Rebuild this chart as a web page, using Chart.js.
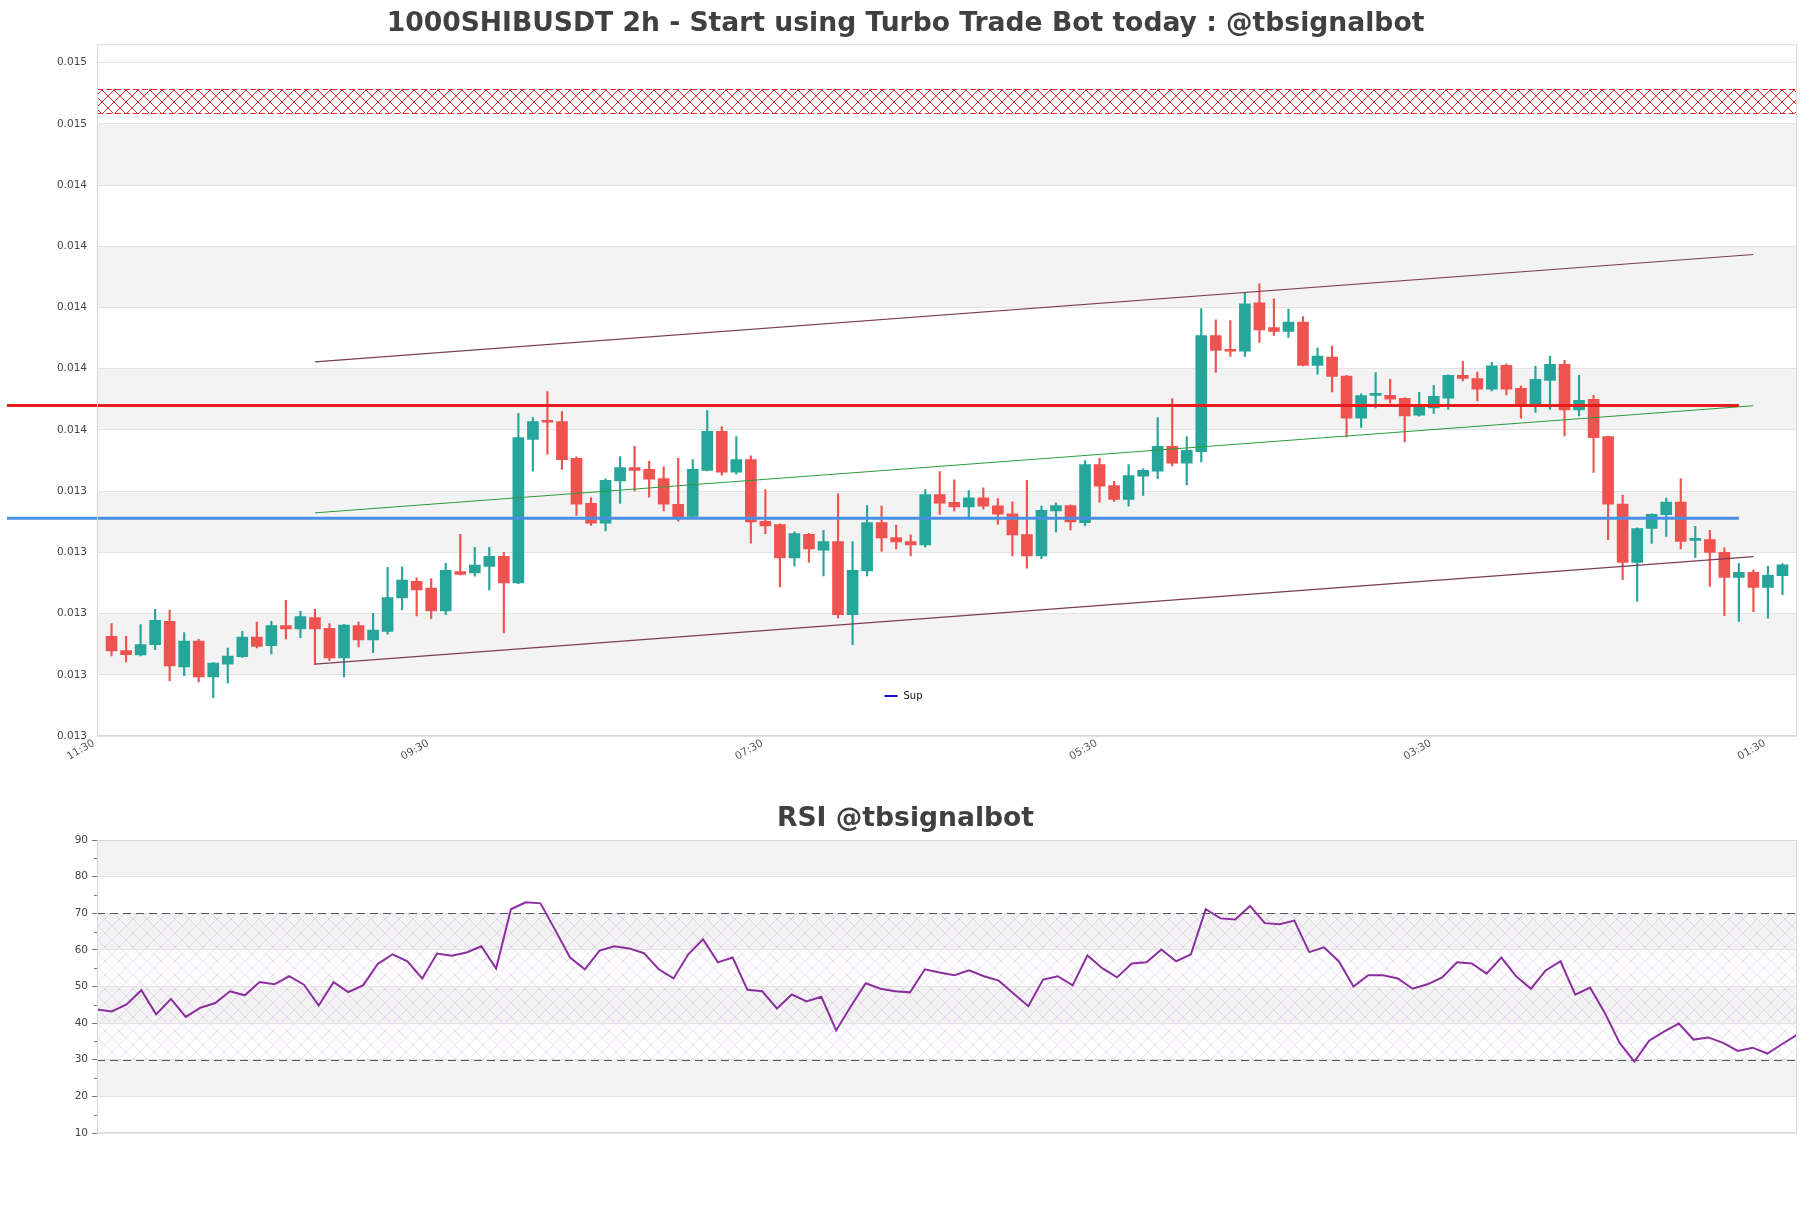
<!DOCTYPE html>
<html>
<head>
<meta charset="utf-8">
<title>1000SHIBUSDT 2h</title>
<script src="https://cdn.jsdelivr.net/npm/chart.js@4.4.1/dist/chart.umd.min.js"></script>
<style>
    html, body { margin: 0; padding: 0; background: #ffffff; }
    #wrap { position: relative; width: 1811px; height: 1208px; }
    #priceChart { position: absolute; left: 0; top: 0; }
    #rsiChart { position: absolute; left: 0; top: 786px; }
</style>
</head>
<body>
<div id="wrap">
    <canvas id="priceChart" width="1811" height="786"></canvas>
    <canvas id="rsiChart" width="1811" height="422"></canvas>
</div>
<script>
// Candle values (2h candles, oldest first)
const opens = [0.012926, 0.012879, 0.012865, 0.012898, 0.012975, 0.012826, 0.012910, 0.012793, 0.012835, 0.012859,
    0.012923, 0.012895, 0.012961, 0.012950, 0.012987, 0.012952, 0.012855, 0.012961, 0.012914, 0.012942,
    0.013051, 0.013105, 0.013083, 0.013009, 0.013137, 0.013133, 0.013154, 0.013187, 0.013100, 0.013569,
    0.013627, 0.013627, 0.013507, 0.013360, 0.013295, 0.013433, 0.013477, 0.013471, 0.013441, 0.013357,
    0.013317, 0.013468, 0.013595, 0.013462, 0.013503, 0.013301, 0.013291, 0.013182, 0.013259, 0.013207,
    0.013235, 0.012996, 0.013139, 0.013297, 0.013248, 0.013235, 0.013224, 0.013389, 0.013363, 0.013348,
    0.013378, 0.013352, 0.013326, 0.013258, 0.013188, 0.013335, 0.013353, 0.013297, 0.013487, 0.013418,
    0.013373, 0.013449, 0.013465, 0.013546, 0.013491, 0.013529, 0.013908, 0.013862, 0.013857, 0.014015,
    0.013934, 0.013922, 0.013952, 0.013811, 0.013838, 0.013776, 0.013638, 0.013713, 0.013713, 0.013703,
    0.013648, 0.013672, 0.013704, 0.013778, 0.013768, 0.013733, 0.013811, 0.013736, 0.013678, 0.013762,
    0.013814, 0.013665, 0.013700, 0.013578, 0.013358, 0.013167, 0.013278, 0.013323, 0.013364, 0.013239,
    0.013242, 0.013200, 0.013118, 0.013135, 0.013085, 0.013124];
const highs = [0.012967, 0.012926, 0.012964, 0.013014, 0.013011, 0.012938, 0.012916, 0.012840, 0.012887, 0.012942,
    0.012972, 0.012975, 0.013043, 0.013007, 0.013014, 0.012967, 0.012965, 0.012972, 0.013001, 0.013151,
    0.013153, 0.013117, 0.013114, 0.013164, 0.013259, 0.013216, 0.013216, 0.013200, 0.013654, 0.013640,
    0.013725, 0.013660, 0.013512, 0.013379, 0.013440, 0.013513, 0.013546, 0.013497, 0.013479, 0.013507,
    0.013503, 0.013663, 0.013611, 0.013578, 0.013515, 0.013405, 0.013293, 0.013267, 0.013262, 0.013272,
    0.013391, 0.013235, 0.013353, 0.013351, 0.013289, 0.013257, 0.013405, 0.013464, 0.013437, 0.013402,
    0.013411, 0.013376, 0.013365, 0.013435, 0.013351, 0.013362, 0.013355, 0.013500, 0.013507, 0.013432,
    0.013487, 0.013473, 0.013640, 0.013702, 0.013578, 0.013996, 0.013960, 0.013957, 0.014049, 0.014077,
    0.014028, 0.013995, 0.013970, 0.013867, 0.013874, 0.013778, 0.013718, 0.013787, 0.013765, 0.013705,
    0.013723, 0.013746, 0.013780, 0.013824, 0.013789, 0.013821, 0.013816, 0.013743, 0.013808, 0.013841,
    0.013827, 0.013778, 0.013713, 0.013580, 0.013387, 0.013280, 0.013326, 0.013377, 0.013441, 0.013285,
    0.013272, 0.013215, 0.013164, 0.013143, 0.013154, 0.013163];
const lows = [0.012862, 0.012842, 0.012862, 0.012882, 0.012780, 0.012797, 0.012777, 0.012725, 0.012773, 0.012857,
    0.012888, 0.012868, 0.012917, 0.012921, 0.012833, 0.012846, 0.012793, 0.012891, 0.012872, 0.012933,
    0.013012, 0.012992, 0.012983, 0.012996, 0.013126, 0.013122, 0.013077, 0.012937, 0.013098, 0.013465,
    0.013521, 0.013471, 0.013321, 0.013288, 0.013270, 0.013360, 0.013401, 0.013380, 0.013335, 0.013302,
    0.013310, 0.013466, 0.013452, 0.013455, 0.013230, 0.013261, 0.013087, 0.013155, 0.013168, 0.013123,
    0.012986, 0.012898, 0.013123, 0.013203, 0.013211, 0.013188, 0.013217, 0.013324, 0.013335, 0.013313,
    0.013341, 0.013292, 0.013188, 0.013148, 0.013179, 0.013267, 0.013273, 0.013286, 0.013364, 0.013366,
    0.013351, 0.013386, 0.013441, 0.013482, 0.013420, 0.013495, 0.013788, 0.013840, 0.013840, 0.013886,
    0.013909, 0.013902, 0.013809, 0.013782, 0.013724, 0.013577, 0.013608, 0.013672, 0.013687, 0.013561,
    0.013645, 0.013654, 0.013667, 0.013760, 0.013695, 0.013727, 0.013714, 0.013638, 0.013657, 0.013667,
    0.013580, 0.013646, 0.013461, 0.013241, 0.013111, 0.013040, 0.013229, 0.013252, 0.013211, 0.013183,
    0.013089, 0.012993, 0.012974, 0.013006, 0.012985, 0.013062];
const closes = [0.012878, 0.012866, 0.012899, 0.012978, 0.012829, 0.012910, 0.012793, 0.012838, 0.012861, 0.012923,
    0.012893, 0.012961, 0.012950, 0.012990, 0.012950, 0.012855, 0.012962, 0.012914, 0.012946, 0.013052,
    0.013109, 0.013077, 0.013009, 0.013141, 0.013128, 0.013158, 0.013187, 0.013100, 0.013575, 0.013627,
    0.013625, 0.013503, 0.013357, 0.013295, 0.013435, 0.013477, 0.013468, 0.013439, 0.013357, 0.013315,
    0.013471, 0.013595, 0.013462, 0.013503, 0.013299, 0.013286, 0.013182, 0.013261, 0.013211, 0.013235,
    0.012996, 0.013141, 0.013297, 0.013247, 0.013234, 0.013224, 0.013389, 0.013361, 0.013348, 0.013378,
    0.013351, 0.013325, 0.013257, 0.013188, 0.013337, 0.013353, 0.013299, 0.013487, 0.013416, 0.013373,
    0.013451, 0.013468, 0.013546, 0.013491, 0.013533, 0.013908, 0.013860, 0.013857, 0.014012, 0.013927,
    0.013922, 0.013952, 0.013811, 0.013841, 0.013775, 0.013638, 0.013712, 0.013716, 0.013700, 0.013646,
    0.013674, 0.013710, 0.013778, 0.013768, 0.013733, 0.013809, 0.013733, 0.013680, 0.013765, 0.013814,
    0.013665, 0.013697, 0.013575, 0.013357, 0.013167, 0.013278, 0.013324, 0.013364, 0.013236, 0.013241,
    0.013200, 0.013118, 0.013135, 0.013085, 0.013125, 0.013159];

// RSI values
const rsi = [43.7, 43.2, 45.1, 49.0, 42.4, 46.6, 41.7, 44.2, 45.5, 48.7,
    47.6, 51.2, 50.6, 52.8, 50.5, 44.8, 51.2, 48.5, 50.3, 56.2,
    58.8, 56.9, 52.2, 59.0, 58.4, 59.3, 61.0, 54.9, 71.1, 73.0,
    72.7, 65.4, 57.9, 54.7, 59.8, 61.0, 60.4, 59.1, 54.7, 52.2,
    58.8, 62.9, 56.6, 57.9, 49.1, 48.7, 44.0, 47.8, 45.9, 47.2,
    38.0, 44.6, 50.9, 49.4, 48.7, 48.4, 54.7, 53.8, 53.1, 54.4,
    52.8, 51.6, 48.1, 44.6, 51.9, 52.8, 50.3, 58.5, 55.0, 52.5,
    56.3, 56.6, 60.1, 56.9, 58.8, 71.1, 68.6, 68.3, 72.0, 67.3,
    67.0, 68.0, 59.4, 60.7, 56.9, 50.0, 53.1, 53.1, 52.2, 49.4,
    50.6, 52.5, 56.6, 56.3, 53.5, 57.9, 52.8, 49.4, 54.4, 56.9,
    47.8, 49.7, 42.8, 34.6, 29.5, 35.2, 37.7, 39.9, 35.5, 36.1,
    34.6, 32.4, 33.3, 31.7, 34.3, 36.8];

// Axis ticks
const priceTicks = [0.0126, 0.0128, 0.0130, 0.0132, 0.0134, 0.0136, 0.0138, 0.0140, 0.0142, 0.0144, 0.0146, 0.0148];
const rsiTicks = [10, 20, 30, 40, 50, 60, 70, 80, 90];
const xTickPos = [0, 23, 46, 69, 92, 115];
const xTickLabels = ['11:30', '09:30', '07:30', '05:30', '03:30', '01:30'];

// Levels, zone and channel (start / end candle and prices)
const resistZone = [0.014634, 0.014713];
const resistLevel = 0.013680;
const supportLevel = 0.013311;
const levelEnd = 113;
const channelFrom = 15;
const channelTo = 114;
const channelUpper = [0.013822, 0.014173];
const channelMid = [0.013329, 0.013679];
const channelLower = [0.012835, 0.013186];
const rsiZone = [30, 70];

const UP = '#26a69a';
const DOWN = '#ef5350';
const FONT = "'DejaVu Sans', 'Liberation Sans', sans-serif";

// Cross hatch pattern for zones
function hatch(ctx, color, size) {
    const c = document.createElement('canvas');
    c.width = size;
    c.height = size;
    const g = c.getContext('2d');
    g.strokeStyle = color;
    g.lineWidth = 1;
    g.beginPath();
    g.moveTo(0, 0); g.lineTo(size, size);
    g.moveTo(size, 0); g.lineTo(0, size);
    g.stroke();
    return ctx.createPattern(c, 'repeat');
}

// Alternating grey bands between ticks
const bandsPlugin = {
    id: 'bands',
    beforeDraw(chart, args, opts) {
        const { ctx, chartArea: a, scales: { y } } = chart;
        ctx.save();
        ctx.fillStyle = '#f3f3f3';
        for (let k = 1; k < opts.ticks.length - 1; k += 2) {
            const top = y.getPixelForValue(opts.ticks[k + 1]);
            const bottom = y.getPixelForValue(opts.ticks[k]);
            ctx.fillRect(a.left, top, a.right - a.left, bottom - top);
        }
        if (opts.zone) {
            const top = y.getPixelForValue(opts.zone[1]);
            const bottom = y.getPixelForValue(opts.zone[0]);
            ctx.fillStyle = hatch(ctx, opts.zoneColor, opts.zoneSize);
            ctx.fillRect(a.left, top, a.right - a.left, bottom - top);
            if (opts.zoneEdge) {
                ctx.strokeStyle = opts.zoneEdge;
                ctx.lineWidth = 1;
                ctx.setLineDash([6, 3]);
                [top, bottom].forEach(py => {
                    ctx.beginPath();
                    ctx.moveTo(a.left, Math.round(py) + 0.5);
                    ctx.lineTo(a.right, Math.round(py) + 0.5);
                    ctx.stroke();
                });
            }
        }
        ctx.restore();
    },
    afterDraw(chart) {
        // light frame round the plot area
        const { ctx, chartArea: a } = chart;
        ctx.save();
        ctx.strokeStyle = '#d9d9d9';
        ctx.lineWidth = 1;
        ctx.strokeRect(a.left + 0.5, a.top + 0.5, a.right - a.left - 1, a.bottom - a.top - 1);
        ctx.restore();
    }
};

document.addEventListener('DOMContentLoaded', () => {
    // Candles drawn as floating bars: thin wicks under wider bodies
    const candleColors = closes.map((c, i) => c >= opens[i] ? UP : DOWN);
    const bodies = opens.map((o, i) => ({ x: i + 1, y: [o, closes[i]] }));
    const wicks = lows.map((l, i) => ({ x: i + 1, y: [l, highs[i]] }));
    const lineSet = (pair, color, width) => ({
        type: 'line',
        data: [{ x: channelFrom, y: pair[0] }, { x: channelTo, y: pair[1] }],
        borderColor: color,
        borderWidth: width,
        pointRadius: 0,
        order: 0
    });

    // Horizontal levels and the "Sup" legend
    const levelsPlugin = {
        id: 'levels',
        afterDatasetsDraw(chart) {
            const { ctx, scales: { x, y } } = chart;
            const xEnd = x.getPixelForValue(levelEnd);
            ctx.save();
            [[resistLevel, '#ec1c1c'], [supportLevel, '#4a90e2']].forEach(([v, color]) => {
                const py = y.getPixelForValue(v);
                ctx.strokeStyle = color;
                ctx.lineWidth = 3;
                ctx.beginPath();
                ctx.moveTo(7, py);
                ctx.lineTo(xEnd, py);
                ctx.stroke();
            });
            ctx.restore();
        },
        afterDraw(chart) {
            const { ctx, chartArea: a } = chart;
            const cx = chart.width / 2;
            const cy = a.bottom - 40;
            ctx.save();
            ctx.strokeStyle = '#1010d0';
            ctx.lineWidth = 2;
            ctx.beginPath();
            ctx.moveTo(cx - 21, cy);
            ctx.lineTo(cx - 8, cy);
            ctx.stroke();
            ctx.fillStyle = '#111';
            ctx.font = '10px ' + FONT;
            ctx.textBaseline = 'middle';
            ctx.fillText('Sup', cx - 2, cy);
            ctx.restore();
        }
    };

    const priceConfig = {
        type: 'bar',
        data: {
            datasets: [
                lineSet(channelUpper, '#7d3c55', 1.2),
                lineSet(channelMid, '#2e9a3a', 1),
                lineSet(channelLower, '#7d3c55', 1.2),
                { data: bodies, backgroundColor: candleColors, barThickness: 11, minBarLength: 2, grouped: false, order: 2 },
                { data: wicks, backgroundColor: candleColors, barThickness: 1.5, grouped: false, order: 3 }
            ]
        },
        options: {
            responsive: false,
            animation: false,
            layout: { padding: { left: 14, right: 14, top: 0, bottom: 0 } },
            plugins: {
                legend: { display: false },
                tooltip: { enabled: false },
                title: {
                    display: true,
                    text: '1000SHIBUSDT 2h - Start using Turbo Trade Bot today : @tbsignalbot',
                    color: '#404040',
                    font: { family: FONT, size: 26.6, weight: 'bold' },
                    padding: { top: 8, bottom: 4.3 }
                },
                bands: { ticks: priceTicks, zone: resistZone, zoneColor: '#e03030', zoneSize: 12, zoneEdge: '#e03030' }
            },
            scales: {
                x: {
                    type: 'linear',
                    min: 0,
                    max: 117,
                    offset: false,
                    grid: { display: false, drawTicks: false, offset: false },
                    border: { display: false },
                    afterBuildTicks: s => { s.ticks = xTickPos.map(v => ({ value: v })); },
                    afterFit: s => { s.height = 50; },
                    ticks: {
                        autoSkip: false,
                        minRotation: 30,
                        maxRotation: 30,
                        padding: 1,
                        labelOffset: -3,
                        color: '#555',
                        font: { family: FONT, size: 10.5 },
                        callback: (v, i) => xTickLabels[i]
                    }
                },
                y: {
                    min: priceTicks[0],
                    max: 0.01486,
                    grid: { color: '#e3e3e3', drawTicks: false },
                    border: { display: false },
                    afterBuildTicks: s => { s.ticks = priceTicks.map(v => ({ value: v })); },
                    afterFit: s => { s.width = 83; },
                    ticks: {
                        padding: 10,
                        color: '#444',
                        font: { family: FONT, size: 10.5 },
                        callback: v => v.toFixed(3)
                    }
                }
            }
        },
        plugins: [bandsPlugin, levelsPlugin]
    };
    new Chart(document.getElementById('priceChart'), priceConfig);

    // RSI panel: dashed 30 / 70 levels and minor tick marks
    const rsiPlugin = {
        id: 'rsiMarks',
        beforeDatasetsDraw(chart) {
            const { ctx, chartArea: a, scales: { y } } = chart;
            ctx.save();
            ctx.strokeStyle = '#555';
            ctx.lineWidth = 1.2;
            ctx.setLineDash([8, 5]);
            rsiZone.forEach(v => {
                const py = Math.round(y.getPixelForValue(v)) + 0.5;
                ctx.beginPath();
                ctx.moveTo(a.left, py);
                ctx.lineTo(a.right, py);
                ctx.stroke();
            });
            ctx.restore();
        },
        afterDraw(chart) {
            const { ctx, chartArea: a, scales: { y } } = chart;
            ctx.save();
            ctx.strokeStyle = '#777';
            ctx.lineWidth = 1;
            for (let k = 0; k < rsiTicks.length - 1; k++) {
                const py = Math.round(y.getPixelForValue((rsiTicks[k] + rsiTicks[k + 1]) / 2)) + 0.5;
                ctx.beginPath();
                ctx.moveTo(a.left - 3, py);
                ctx.lineTo(a.left, py);
                ctx.stroke();
            }
            ctx.restore();
        }
    };

    const rsiConfig = {
        type: 'line',
        data: {
            datasets: [{
                data: rsi.map((v, i) => ({ x: i, y: v })),
                borderColor: '#8b2f9e',
                borderWidth: 2,
                pointRadius: 0,
                tension: 0
            }]
        },
        options: {
            responsive: false,
            animation: false,
            layout: { padding: { left: 14, right: 14, top: 0, bottom: 75 } },
            plugins: {
                legend: { display: false },
                tooltip: { enabled: false },
                title: {
                    display: true,
                    text: 'RSI @tbsignalbot',
                    color: '#404040',
                    font: { family: FONT, size: 26.6, weight: 'bold' },
                    padding: { top: 17, bottom: 5.1 }
                },
                bands: { ticks: rsiTicks, zone: rsiZone, zoneColor: 'rgba(190, 140, 205, 0.28)', zoneSize: 14 }
            },
            scales: {
                x: { type: 'linear', display: false, min: 0, max: rsi.length - 1 },
                y: {
                    min: 10,
                    max: 90,
                    grid: { color: '#e3e3e3', tickColor: '#777', tickLength: 5 },
                    border: { display: false },
                    afterBuildTicks: s => { s.ticks = rsiTicks.map(v => ({ value: v })); },
                    afterFit: s => { s.width = 83; },
                    ticks: {
                        padding: 4,
                        color: '#444',
                        font: { family: FONT, size: 10.5 }
                    }
                }
            }
        },
        plugins: [bandsPlugin, rsiPlugin]
    };
    new Chart(document.getElementById('rsiChart'), rsiConfig);
});
</script>
</body>
</html>
